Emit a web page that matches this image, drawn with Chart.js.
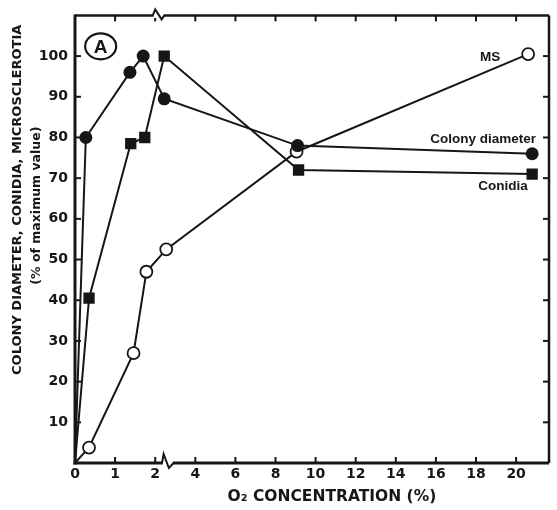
<!DOCTYPE html>
<html>
<head>
<meta charset="utf-8">
<script src="https://cdn.jsdelivr.net/npm/chart.js@4/dist/chart.umd.min.js"></script>
<style>
  html, body { margin: 0; background: #fff; }
  #wrap { width: 557px; height: 510px; position: relative; }
</style>
</head>
<body>
<div id="wrap"><canvas id="chart"></canvas></div>
<script>
// ---- O2 effect on colony diameter / conidia / microsclerotia (% of max) ----
// x = O2 concentration (%), read per series off the figure
const colonyX  = [0, 0.27, 1.37, 1.70, 2.45, 9.10, 20.8];
const colonyY  = [0, 80, 96, 100, 89.5, 78, 76];
const conidiaX = [0, 0.35, 1.39, 1.74, 2.45, 9.15, 20.8];
const conidiaY = [0, 40.5, 78.5, 80, 100, 72, 71];
const msX      = [0, 0.35, 1.46, 1.78, 2.55, 9.05, 20.6];
const msY      = [0, 3.8, 27, 47, 52.5, 76.5, 100.5];

const xTickVals   = [0, 1, 2, 4, 6, 8, 10, 12, 14, 16, 18, 20];
const xTickLabels = ["0", "1", "2", "4", "6", "8", "10", "12", "14", "16", "18", "20"];
const yTickVals   = [10, 20, 30, 40, 50, 60, 70, 80, 90, 100];

// series labels written next to the right-hand ends: [text, O2 %, value]
const seriesNotes = [
  ["MS", 18.7, 99.8],
  ["Colony diameter", 18.35, 79.6],
  ["Conidia", 19.35, 68.1],
];

const INK = "#161616";
const TICK_FONT = "bold 14px 'DejaVu Sans'";

// broken x axis: 0-2 % drawn at full scale, everything above 2 % at half scale
function toAxis(x) { return x <= 2 ? x : 2 + (x - 2) / 2; }
function pts(xs, ys) { return xs.map((x, i) => ({ x: toAxis(x), y: ys[i] })); }

function line(ctx, x1, y1, x2, y2) { ctx.beginPath(); ctx.moveTo(x1, y1); ctx.lineTo(x2, y2); ctx.stroke(); }

const framePlugin = {
  id: "frame",
  afterDraw(chart) {
    const { ctx, chartArea: a, scales: { x, y } } = chart;
    ctx.save();
    ctx.strokeStyle = INK;
    ctx.lineCap = "butt";

    // box
    ctx.lineWidth = 3;
    line(ctx, a.left, a.top - 1, a.left, a.bottom + 1.5);
    line(ctx, a.left - 1.5, a.bottom, a.right, a.bottom);
    ctx.lineWidth = 2.5;
    line(ctx, a.left, a.top, a.right, a.top);
    line(ctx, a.right, a.top, a.right, a.bottom);

    // inward ticks on all four sides
    ctx.lineWidth = 2;
    xTickVals.slice(1).forEach(v => {
      const px = x.getPixelForValue(toAxis(v));
      line(ctx, px, a.bottom, px, a.bottom - 6);
      line(ctx, px, a.top, px, a.top + 6);
    });
    yTickVals.forEach(v => {
      const py = y.getPixelForValue(v);
      line(ctx, a.left, py, a.left + 6, py);
      line(ctx, a.right, py, a.right - 6, py);
    });

    // axis break marks
    const bx = u => x.getPixelForValue(u);
    ctx.strokeStyle = "#fff"; ctx.lineWidth = 5;
    line(ctx, bx(2.19), a.bottom, bx(2.44), a.bottom);
    line(ctx, bx(1.96), a.top, bx(2.21), a.top);
    ctx.strokeStyle = INK; ctx.lineWidth = 2;
    ctx.beginPath();
    ctx.moveTo(bx(2.17), a.bottom);
    ctx.lineTo(bx(2.21), a.bottom - 9);
    ctx.lineTo(bx(2.34), a.bottom + 5);
    ctx.lineTo(bx(2.46), a.bottom);
    ctx.stroke();
    ctx.beginPath();
    ctx.moveTo(bx(1.94), a.top);
    ctx.lineTo(bx(2.0), a.top - 6);
    ctx.lineTo(bx(2.16), a.top + 4);
    ctx.lineTo(bx(2.23), a.top);
    ctx.stroke();

    // panel letter
    const cx = x.getPixelForValue(0.64), cy = y.getPixelForValue(102.4);
    ctx.lineWidth = 2.2;
    ctx.beginPath(); ctx.ellipse(cx, cy, 15.5, 13, 0, 0, Math.PI * 2); ctx.stroke();
    ctx.fillStyle = INK;
    ctx.textAlign = "center"; ctx.textBaseline = "middle";
    ctx.font = "bold 19px 'Liberation Sans'";
    ctx.fillText("A", cx, cy + 1);

    // series labels
    ctx.font = "bold 13.5px 'Liberation Sans'";
    seriesNotes.forEach(([t, xv, yv]) => ctx.fillText(t, x.getPixelForValue(toAxis(xv)), y.getPixelForValue(yv)));

    // axis titles
    ctx.font = "bold 15.5px 'DejaVu Sans'";
    ctx.fillText("O\u2082 CONCENTRATION (%)", a.left + 0.542 * (a.right - a.left), a.bottom + 34);
    ctx.save();
    ctx.translate(18, a.top + 0.412 * (a.bottom - a.top));
    ctx.rotate(-Math.PI / 2);
    ctx.font = "bold 13px 'DejaVu Sans'";
    ctx.fillText("COLONY DIAMETER, CONIDIA, MICROSCLEROTIA", 0, 0);
    ctx.restore();
    ctx.save();
    ctx.translate(37, a.top + 0.425 * (a.bottom - a.top));
    ctx.rotate(-Math.PI / 2);
    ctx.font = "bold 12.5px 'DejaVu Sans'";
    ctx.fillText("(% of maximum value)", 0, 0);
    ctx.restore();

    ctx.restore();
  }
};

const hideOrigin = c => (c.dataIndex === 0 ? 0 : undefined);

new Chart(document.getElementById("chart"), {
  type: "scatter",
  data: {
    datasets: [
      { label: "Colony diameter", data: pts(colonyX, colonyY), showLine: true,
        borderColor: INK, backgroundColor: INK, borderWidth: 2,
        pointStyle: "circle", pointRadius: c => hideOrigin(c) ?? 6.5, pointBorderWidth: 0 },
      { label: "Conidia", data: pts(conidiaX, conidiaY), showLine: true,
        borderColor: INK, backgroundColor: INK, borderWidth: 2,
        pointStyle: "rect", pointRadius: c => hideOrigin(c) ?? 8, pointBorderWidth: 0 },
      { label: "MS", data: pts(msX, msY), showLine: true,
        borderColor: INK, backgroundColor: "#fff", borderWidth: 2,
        pointStyle: "circle", pointRadius: c => hideOrigin(c) ?? 6, pointBorderWidth: 1.8 },
    ],
  },
  options: {
    responsive: true,
    maintainAspectRatio: false,
    animation: false,
    layout: { padding: { top: 14, right: 6, left: 0, bottom: 0 } },
    plugins: { legend: { display: false }, tooltip: { enabled: false } },
    elements: { line: { tension: 0 } },
    scales: {
      x: {
        type: "linear", min: 0, max: 11.82,
        afterBuildTicks: s => { s.ticks = xTickVals.map(v => ({ value: toAxis(v) })); },
        afterFit: s => { s.height = 47; },
        ticks: { color: INK, font: { family: "DejaVu Sans", size: 14, weight: "bold" }, padding: 3,
                 autoSkip: false, maxRotation: 0, callback: (v, i) => xTickLabels[i] },
        grid: { display: false, drawTicks: false },
        border: { display: false },
      },
      y: {
        type: "linear", min: 0, max: 110,
        afterBuildTicks: s => { s.ticks = yTickVals.map(v => ({ value: v })); },
        afterFit: s => { s.width = 75; },
        ticks: { color: INK, font: { family: "DejaVu Sans", size: 14, weight: "bold" }, padding: 7 },
        grid: { display: false, drawTicks: false },
        border: { display: false },
      },
    },
  },
  plugins: [framePlugin],
});
</script>
</body>
</html>
